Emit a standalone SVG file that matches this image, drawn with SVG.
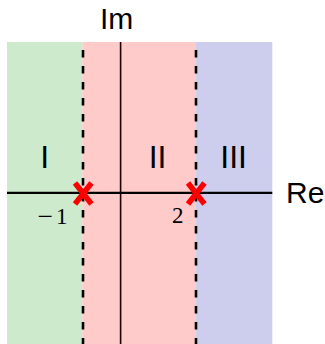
<svg xmlns="http://www.w3.org/2000/svg" width="325" height="344" viewBox="0 0 325 344">
<style>
.lab{font-family:"Liberation Sans",Arial,sans-serif;fill:#000}
.num{font-family:"Liberation Serif","Times New Roman",serif;font-size:23px;fill:#000}
.dash{stroke:#000;stroke-width:2.6;stroke-dasharray:7.5 8.5;fill:none}
.xm{stroke:#ff0000;stroke-width:5.5;fill:none}
</style>
<rect width="325" height="344" fill="#fff"/>
<g id="regions">
<rect id="region-I" x="7" y="42" width="75.5" height="302" fill="#cdeacd"/>
<rect id="region-II" x="82.5" y="42" width="113.5" height="302" fill="#ffcaca"/>
<rect id="region-III" x="196" y="42" width="76.3" height="302" fill="#cdcdee"/>
</g>
<g id="connectors">
<line id="im-axis" x1="120.6" y1="42" x2="120.6" y2="344" stroke="#1a0000" stroke-width="1.6"/>
<line id="re-axis" x1="7" y1="192.8" x2="272.3" y2="192.8" stroke="#000" stroke-width="2.3"/>
<line class="dash" x1="83" y1="50" x2="83" y2="344"/>
<line class="dash" x1="196" y1="50" x2="196" y2="344"/>
</g>
<g id="pole-1"><path class="xm" d="M75,183 L91.5,204 M91.5,183 L75,204"/></g>
<g id="pole-2"><path class="xm" d="M188,183 L204.5,204 M204.5,183 L188,204"/></g>
<g id="labels">
<text class="lab" x="100" y="29.3" font-size="30">Im</text>
<text class="lab" x="286" y="203.3" font-size="30">Re</text>
<text class="lab" x="40.3" y="168.3" font-size="32">I</text>
<text class="lab" x="148.7" y="168.3" font-size="32">II</text>
<text class="lab" x="220.3" y="168.3" font-size="32">III</text>
<text class="num" x="37.5" y="224" textLength="15.5" lengthAdjust="spacingAndGlyphs">−</text>
<text class="num" x="56" y="224">1</text>
<text class="num" x="172" y="223.3">2</text>
</g>
</svg>
